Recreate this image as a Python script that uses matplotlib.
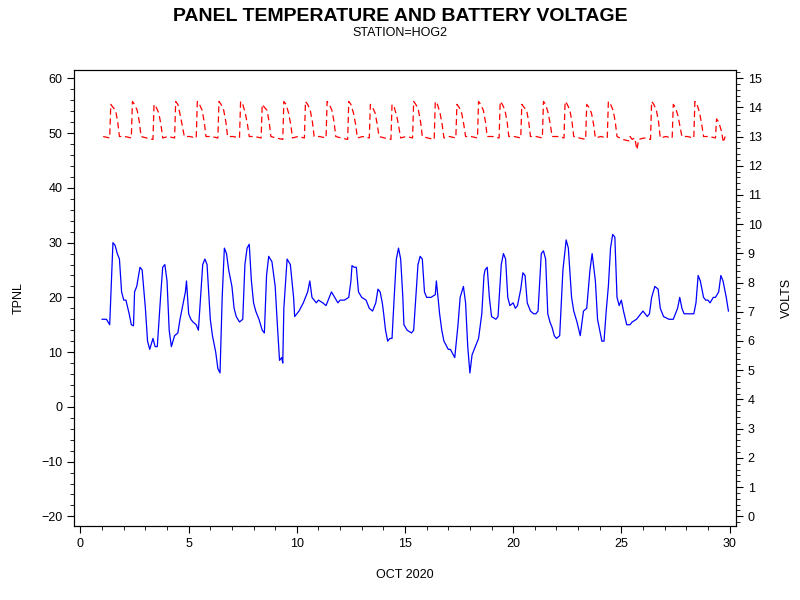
import matplotlib

matplotlib.use("Agg")

import matplotlib.pyplot as plt
from matplotlib.ticker import MultipleLocator

plt.rcParams["font.family"] = "Liberation Sans"

# panel temperature, (day of month, deg C)
TEMP_DAY = [
    1.0, 1.2, 1.35, 1.5, 1.6, 1.7, 1.8, 1.9, 2.0, 2.1, 2.25, 2.35, 2.45, 2.5, 2.6, 2.75, 2.85,
    3.0, 3.1, 3.2, 3.35, 3.45, 3.55, 3.7, 3.8, 3.9, 4.0, 4.1, 4.2, 4.35, 4.5, 4.6, 4.75, 4.85,
    4.9, 5.0, 5.1, 5.2, 5.35, 5.45, 5.55, 5.65, 5.75, 5.85, 6.0, 6.1, 6.25, 6.35, 6.45, 6.55,
    6.65, 6.75, 6.85, 7.0, 7.1, 7.2, 7.35, 7.5, 7.6, 7.7, 7.8, 7.9, 8.0, 8.1, 8.25, 8.4, 8.5,
    8.6, 8.7, 8.85, 9.0, 9.1, 9.2, 9.3, 9.35, 9.4, 9.55, 9.7, 9.85, 9.9, 10.1, 10.3, 10.5,
    10.55, 10.6, 10.7, 10.9, 11.0, 11.2, 11.35, 11.5, 11.6, 11.75, 11.9, 12.0, 12.2, 12.4,
    12.5, 12.55, 12.65, 12.75, 12.85, 13.0, 13.2, 13.35, 13.5, 13.65, 13.75, 13.85, 13.95,
    14.0, 14.1, 14.2, 14.3, 14.4, 14.5, 14.6, 14.7, 14.8, 14.9, 14.95, 15.1, 15.3, 15.4,
    15.5, 15.6, 15.7, 15.8, 15.9, 16.0, 16.2, 16.4, 16.45, 16.6, 16.7, 16.8, 17.0, 17.1,
    17.3, 17.45, 17.55, 17.7, 17.8, 17.9, 18.0, 18.1, 18.25, 18.4, 18.55, 18.65, 18.7, 18.8,
    18.9, 19.0, 19.2, 19.3, 19.45, 19.55, 19.65, 19.75, 19.85, 20.0, 20.1, 20.2, 20.35,
    20.45, 20.55, 20.65, 20.8, 20.95, 21.05, 21.15, 21.3, 21.4, 21.5, 21.6, 21.7, 21.8,
    21.9, 22.0, 22.15, 22.3, 22.45, 22.55, 22.7, 22.8, 22.95, 23.1, 23.25, 23.4, 23.55,
    23.65, 23.8, 23.9, 24.0, 24.1, 24.2, 24.3, 24.4, 24.5, 24.6, 24.7, 24.8, 24.9, 25.0,
    25.1, 25.25, 25.4, 25.5, 25.7, 25.9, 26.0, 26.2, 26.3, 26.4, 26.55, 26.7, 26.8, 26.95,
    27.2, 27.4, 27.5, 27.6, 27.7, 27.8, 27.9, 28.0, 28.2, 28.35, 28.45, 28.55, 28.65, 28.8,
    28.9, 29.0, 29.1, 29.25, 29.35, 29.5, 29.6, 29.7, 29.85, 29.95,
]
TEMP_VAL = [
    16, 16, 15, 30, 29.5, 28, 27, 21, 19.5, 19.5, 17, 15, 14.8, 21, 22, 25.5, 25,
    18, 12, 10.5, 12.5, 11, 11, 20, 25.5, 26, 23, 14, 11, 13, 13.5, 16, 19, 21,
    23, 17, 16, 15.5, 15, 14, 20, 26, 27, 26, 16, 13, 10, 7, 6.2, 20,
    29, 28, 25, 22, 18, 16.5, 15.5, 16, 26, 29, 29.7, 23, 19, 17.5, 16, 14, 13.5,
    24, 27.5, 26.5, 22, 15, 8.5, 9, 8, 18, 27, 26, 20, 16.5, 17.5, 19, 21,
    22, 23, 20, 19, 19.5, 19, 18.5, 20, 21, 20, 19, 19.5, 19.5, 20,
    23, 25.8, 25.5, 25.5, 21, 20, 19.5, 18, 17.5, 19, 21.5, 21, 19,
    17.5, 14, 12, 12.5, 12.5, 20, 27, 29, 27, 20, 15, 14, 13.5, 14,
    20, 26, 27.5, 27, 21, 20, 20, 20.5, 23, 17, 14, 12, 10.5, 10.5,
    9, 15, 20, 22, 19, 11, 6.2, 9.5, 11, 12.5, 17, 24, 25, 25.5,
    20, 16.5, 16, 16.5, 26, 28, 27, 20, 18.5, 19, 18, 18.5, 21.5,
    24.5, 24, 19, 17.5, 17, 17, 17.5, 28, 28.5, 27, 17, 15.5, 14.5,
    13, 12.5, 13, 25, 30.5, 29, 20, 17.5, 15.5, 13, 17.5, 18, 25,
    28, 23, 16, 14, 12, 12, 17.5, 22, 29, 31.5, 31, 20, 18.5, 19.5,
    17.5, 15, 15, 15.5, 16, 17, 17.5, 16.5, 17, 20, 22, 21.5, 18, 16.5,
    16, 16, 17, 18, 20, 18, 17, 17, 17, 17, 19, 24, 23, 20,
    19.5, 19.5, 19, 20, 20, 21, 24, 23, 20, 17.5,
]

# battery voltage, one dawn-to-dusk charging cycle per day
VOLT_DAY = []
VOLT_VAL = []
VOLT_CYCLES = [
    # (day, night, peak, shoulder)
    (1, 13.0, 14.1, 13.9), (2, 13.0, 14.2, 13.9), (3, 12.95, 14.1, 13.8),
    (4, 13.0, 14.2, 13.7), (5, 13.0, 14.2, 13.9), (6, 13.0, 14.2, 13.9),
    (7, 13.0, 14.2, 13.8), (8, 13.0, 14.1, 13.9), (9, 12.95, 14.2, 13.8),
    (10, 13.0, 14.2, 13.9), (11, 13.0, 14.2, 13.9), (12, 12.95, 14.2, 13.8),
    (13, 13.0, 14.1, 13.8), (14, 12.95, 14.1, 13.7), (15, 13.0, 14.2, 13.9),
    (16, 12.95, 14.2, 13.8), (17, 13.0, 14.1, 13.8), (18, 13.0, 14.2, 13.9),
    (19, 13.0, 14.2, 13.9), (20, 13.0, 14.1, 13.9), (21, 13.0, 14.2, 13.8),
    (22, 13.0, 14.2, 13.9), (23, 12.95, 14.1, 13.8), (24, 13.0, 14.2, 13.9),
    (25, 12.9, 13.0, 12.95), (26, 12.95, 14.2, 13.9), (27, 13.0, 14.1, 13.7),
    (28, 13.0, 14.2, 13.8), (29, 13.0, 13.6, 13.2),
]
for day, night, peak, shoulder in VOLT_CYCLES:
    VOLT_DAY += [day + 0.05, day + 0.35, day + 0.4, day + 0.5, day + 0.62, day + 0.72, day + 0.8]
    VOLT_VAL += [night, night - 0.05, peak, peak - 0.1, shoulder, shoulder - 0.4, night]

fig = plt.figure(figsize=(8, 6), dpi=100)
ax = fig.add_axes([0.0925, 0.123, 0.8275, 0.76])
ax2 = ax.twinx()

ax.plot(TEMP_DAY, TEMP_VAL, color="blue", linewidth=0.9)
ax2.plot(VOLT_DAY, VOLT_VAL, color="red", linewidth=0.9, linestyle=(0, (5, 3)))

ax.set_xlim(-0.3, 30.3)
ax.set_ylim(-21.8, 61.5)
ax2.set_ylim(-0.34, 15.27)
ax.xaxis.set_major_locator(MultipleLocator(5))
ax.xaxis.set_minor_locator(MultipleLocator(1))
ax.yaxis.set_major_locator(MultipleLocator(10))
ax.yaxis.set_minor_locator(MultipleLocator(2))
ax2.yaxis.set_major_locator(MultipleLocator(1))
ax2.yaxis.set_minor_locator(MultipleLocator(0.2))

for a in (ax, ax2):
    a.tick_params(which="both", direction="out", labelsize=9)
    a.tick_params(which="major", length=5)
    a.tick_params(which="minor", length=3)

ax.set_xlabel("OCT 2020", fontsize=9, labelpad=14)
ax.set_ylabel("TPNL", fontsize=9, labelpad=12)
ax2.set_ylabel("VOLTS", fontsize=9, labelpad=14)

fig.text(0.5, 0.965, "PANEL TEMPERATURE AND BATTERY VOLTAGE", ha="center",
         fontsize=14, fontweight="bold")
fig.text(0.5, 0.94, "STATION=HOG2", ha="center", fontsize=9)

fig.savefig("out.png", dpi=100)
